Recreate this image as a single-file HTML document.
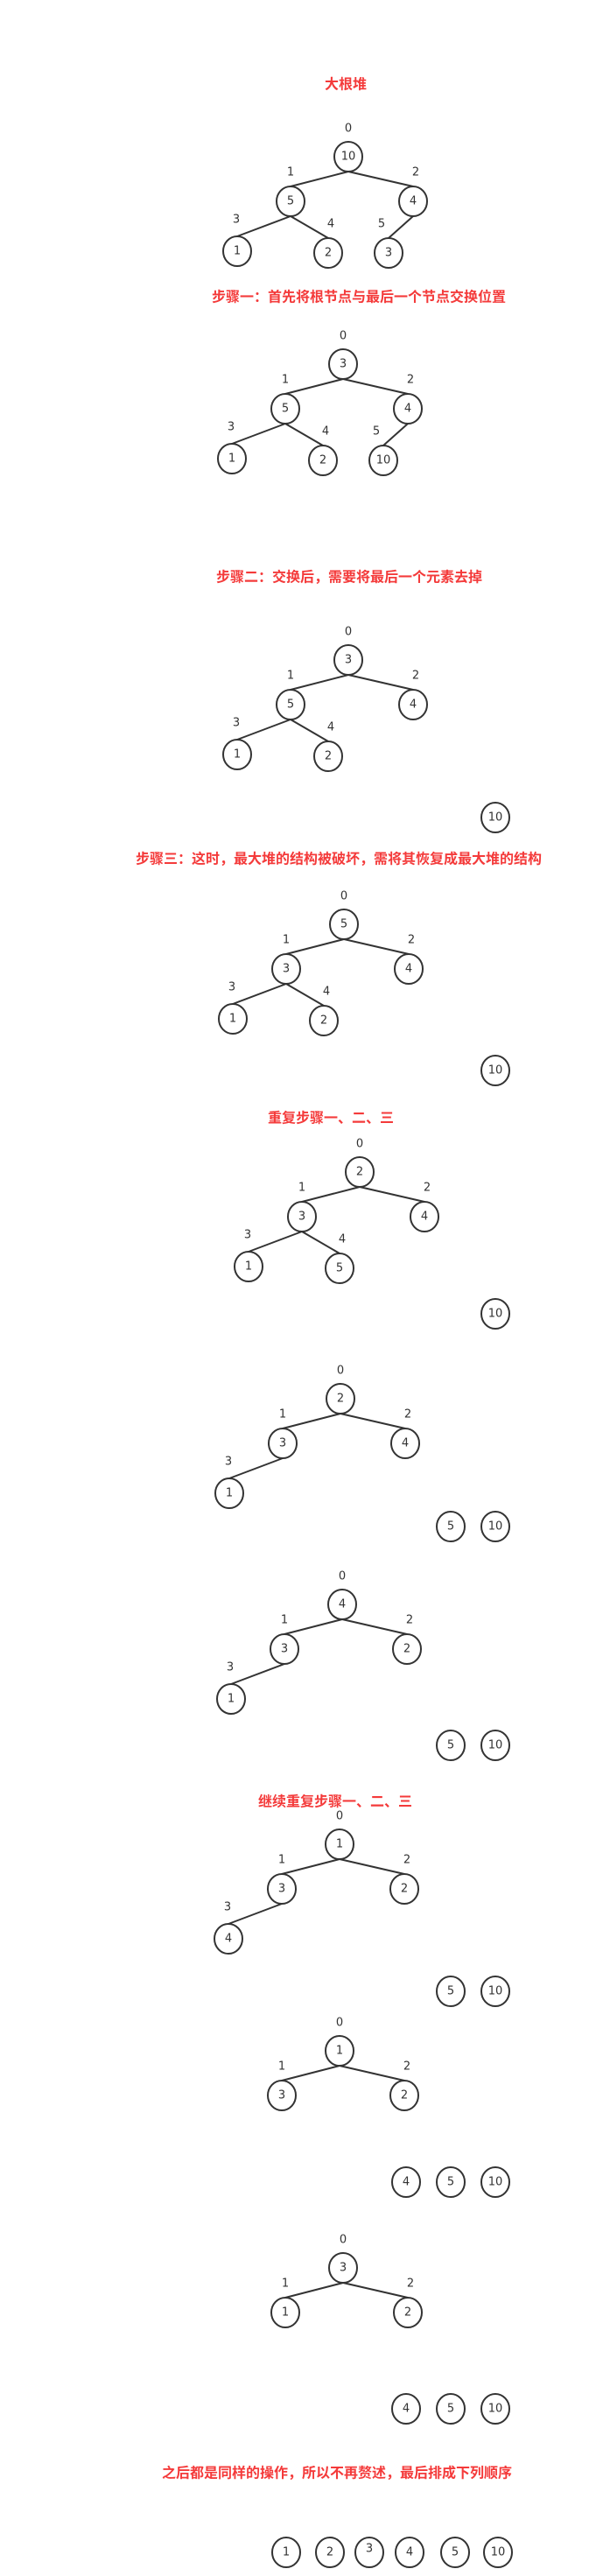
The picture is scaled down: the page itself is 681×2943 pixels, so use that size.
<!DOCTYPE html>
<html><head><meta charset="utf-8">
<style>
html,body{margin:0;padding:0;background:#fff;}
svg{display:block;}
.t{font-family:"Liberation Sans","Noto Sans CJK SC",sans-serif;font-weight:bold;font-size:16px;fill:#f43a3a;text-anchor:middle;dominant-baseline:central;}
.n{font-family:"DejaVu Sans","Liberation Sans",sans-serif;font-size:13px;fill:#333;text-anchor:middle;dominant-baseline:central;}
</style></head>
<body>
<svg id="s" width="681" height="2943" viewBox="0 0 681 2943" xmlns="http://www.w3.org/2000/svg">
<text class="t" x="395" y="97">大根堆</text>
<text class="t" x="410" y="340">步骤一：首先将根节点与最后一个节点交换位置</text>
<text class="t" x="399" y="660">步骤二：交换后，需要将最后一个元素去掉</text>
<text class="t" x="387" y="982">步骤三：这时，最大堆的结构被破坏，需将其恢复成最大堆的结构</text>
<text class="t" x="378" y="1278">重复步骤一、二、三</text>
<text class="t" x="383" y="2059">继续重复步骤一、二、三</text>
<text class="t" x="385" y="2826">之后都是同样的操作，所以不再赘述，最后排成下列顺序</text>
</svg>
<script>
const treeRoots=[[398,179],[392,416],[398,754],[393,1056],[411,1339],[389,1598],[391,1833],[388,2107],[388,2343],[392,2591]];
const treeValues=[[10,5,4,1,2,3],[3,5,4,1,2,10],[3,5,4,1,2],[5,3,4,1,2],[2,3,4,1,5],[2,3,4,1],[4,3,2,1],[1,3,2,4],[1,3,2],[3,1,2]];
const sortedValues=[[],[],[10],[10],[10],[5,10],[5,10],[5,10],[4,5,10],[4,5,10]];
const sortedRowY=[0,0,934,1223,1501,1744,1994,2275,2493,2752];
const finalValues=[1,2,3,4,5,10];
const finalY=2916;

const NS='http://www.w3.org/2000/svg';
const svg=document.getElementById('s');
const off=[[0,0],[-66,51],[74,51],[-127,108],[-23,110],[46,110]];
const lab=[[0,-32],[0,-33],[3,-33],[-1,-36],[3,-33],[-8,-33]];
const R=16,RY=17;
function mk(tag,a){const e=document.createElementNS(NS,tag);for(const k in a)e.setAttribute(k,a[k]);svg.appendChild(e);return e;}
function node(x,y,v,name,dy){
  const c=mk('ellipse',{cx:x,cy:y,rx:R,ry:RY,fill:'#fff',stroke:'#333','stroke-width':2});
  
  
  const t=mk('text',{x:x,y:y+(dy||0),class:'n'});t.textContent=v;
  
  
}
treeValues.forEach((vals,ti)=>{
  const [rx,ry]=treeRoots[ti];
  for(let i=1;i<vals.length;i++){
    const p=Math.floor((i-1)/2);
    const l=mk('line',{x1:rx+off[p][0],y1:ry+off[p][1]+RY,x2:rx+off[i][0],y2:ry+off[i][1]-RY,stroke:'#333','stroke-width':2});
    
    
  }
  vals.forEach((v,i)=>{
    const x=rx+off[i][0],y=ry+off[i][1];
    node(x,y,v,'tree-node');
    const t=mk('text',{x:x+lab[i][0],y:y+lab[i][1],class:'n'});t.textContent=i;
    
    
  });
  const s=sortedValues[ti];
  s.forEach((v,j)=>{
    const x=566-(s.length-1-j)*51;
    node(x,sortedRowY[ti],v,'sorted-node');
  });
});
finalValues.forEach((v,j)=>{
  const x=[327,377,422,468,520,569][j];
  node(x,finalY,v,'final-node',j===2?-4:0);
});
</script>
</body></html>
